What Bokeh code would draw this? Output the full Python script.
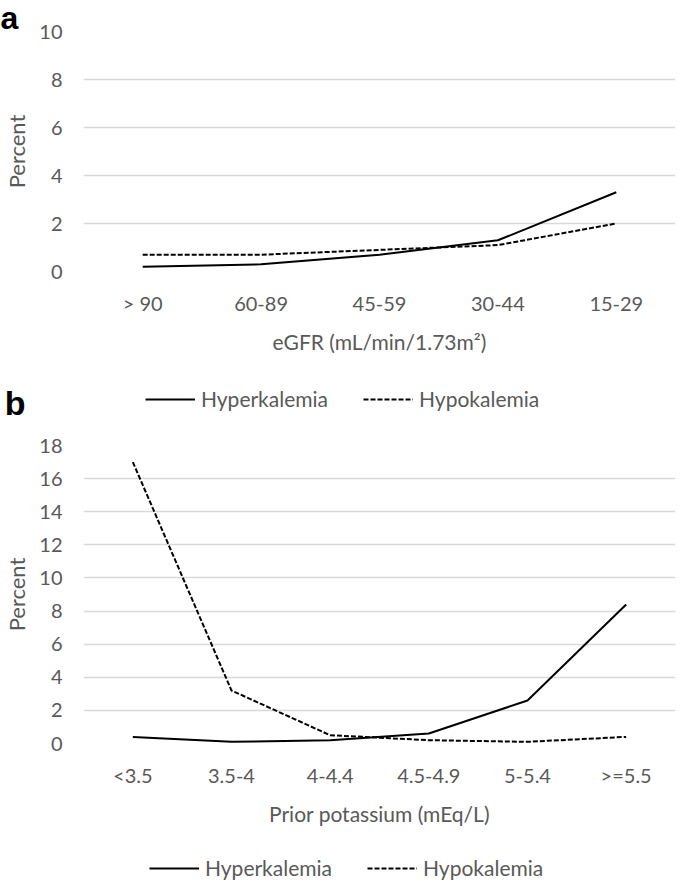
from bokeh.plotting import figure
from bokeh.layouts import column
from bokeh.models import FactorRange, Range1d, FixedTicker, Legend, LegendItem, Title
from bokeh.embed import file_html
from bokeh.resources import INLINE

# ---------------- data ----------------
egfr_cats = ["> 90", "60-89", "45-59", "30-44", "15-29"]
egfr_hyper = [0.2, 0.3, 0.7, 1.3, 3.3]
egfr_hypo = [0.7, 0.7, 0.9, 1.1, 2.0]
egfr_ticks = [0, 2, 4, 6, 8, 10]

k_cats = ["<3.5", "3.5-4", "4-4.4", "4.5-4.9", "5-5.4", ">=5.5"]
k_hyper = [0.4, 0.1, 0.2, 0.6, 2.6, 8.4]
k_hypo = [17.0, 3.2, 0.5, 0.2, 0.1, 0.4]
k_ticks = [0, 2, 4, 6, 8, 10, 12, 14, 16, 18]

series_names = ["Hyperkalemia", "Hypokalemia"]

FONT = "Lato"
GRAY = "#595959"
GRID = "#d9d9d9"
W = 685
SOLID = dict(line_color="black", line_width=2)
DASHED = dict(line_color="black", line_width=2, line_dash="5 2")


def style(p, ticks):
    p.outline_line_color = None
    p.xgrid.grid_line_color = None
    p.ygrid.grid_line_color = GRID
    p.ygrid.grid_line_width = 1.5
    p.yaxis.ticker = FixedTicker(ticks=ticks)
    for ax in (p.xaxis[0], p.yaxis[0]):
        ax.axis_line_color = None
        ax.major_tick_line_color = None
        ax.minor_tick_line_color = None
        ax.major_tick_out = 0
        ax.major_tick_in = 0
        ax.minor_tick_out = 0
        ax.major_label_text_font = FONT
        ax.major_label_text_font_size = "20px"
        ax.major_label_text_color = GRAY
        ax.axis_label_text_font = FONT
        ax.axis_label_text_font_size = "21px"
        ax.axis_label_text_color = GRAY
        ax.axis_label_text_font_style = "normal"
    p.yaxis.axis_label = "Percent"
    p.yaxis.axis_label_text_font_size = "22px"
    p.yaxis.major_label_standoff = 21
    p.yaxis.axis_label_standoff = 6
    p.xaxis.major_label_standoff = 19
    p.xaxis.axis_label_standoff = 11


def legend_strip(height, vx, vy, cats, hyper, hypo, letter=None, letter_y=None):
    """A blank strip holding one legend row (and optionally the panel letter)."""
    s = figure(width=W, height=height, x_range=Range1d(0, len(cats)),
               y_range=Range1d(0, height), x_axis_type=None, output_backend="svg",
               toolbar_location=None, min_border_left=78, min_border_right=0,
               min_border_top=0, min_border_bottom=0)
    s.outline_line_color = None
    s.grid.visible = False
    ya = s.yaxis[0]
    ya.axis_line_color = None
    ya.major_tick_line_color = None
    ya.minor_tick_line_color = None
    ya.major_tick_out = 0
    ya.minor_tick_out = 0
    if letter is None:
        ya.ticker = FixedTicker(ticks=[])
    else:
        ya.ticker = FixedTicker(ticks=[letter_y])
        ya.major_label_overrides = {letter_y: letter}
        ya.major_label_standoff = 58
        ya.major_label_text_font = "Liberation Sans"
        ya.major_label_text_font_style = "bold"
        ya.major_label_text_font_size = "34px"
        ya.major_label_text_color = "black"
    rH = s.line(list(range(len(cats))), hyper, visible=False, **SOLID)
    rL = s.line(list(range(len(cats))), hypo, visible=False, **DASHED)
    s.add_layout(Legend(items=[LegendItem(label=series_names[0], renderers=[rH]),
                               LegendItem(label=series_names[1], renderers=[rL])],
                        location=(vx, vy), orientation="horizontal",
                        glyph_width=50, glyph_height=24, label_height=24,
                        label_standoff=6, padding=0, margin=0, spacing=35,
                        border_line_alpha=0, background_fill_alpha=0,
                        inactive_fill_alpha=0,
                        label_text_font=FONT, label_text_font_size="21px",
                        label_text_color=GRAY))
    return s


# ---------------- panel a ----------------
pA = figure(width=W, height=356, x_range=FactorRange(factors=egfr_cats),
            y_range=Range1d(0, 10), output_backend="svg", toolbar_location=None,
            min_border_left=78, min_border_right=10, min_border_top=31, min_border_bottom=82)
style(pA, egfr_ticks)
pA.xaxis.axis_label = "eGFR (mL/min/1.73m\u00b2)"
pA.line(egfr_cats, egfr_hyper, **SOLID)
pA.line(egfr_cats, egfr_hypo, **DASHED)
pA.add_layout(Title(text="a", align="left", offset=-83, standoff=-8,
                    vertical_align="bottom", text_font="Liberation Sans",
                    text_font_style="bold", text_font_size="32px",
                    text_color="black"), "above")

strip1 = legend_strip(77, 62, 22, egfr_cats, egfr_hyper, egfr_hypo, letter="b", letter_y=31)

# ---------------- panel b ----------------
pB = figure(width=W, height=395, x_range=FactorRange(factors=k_cats),
            y_range=Range1d(0, 18), output_backend="svg", toolbar_location=None,
            min_border_left=78, min_border_right=0, min_border_top=12, min_border_bottom=82)
style(pB, k_ticks)
pB.xaxis.axis_label = "Prior potassium (mEq/L)"
pB.line(k_cats, k_hyper, **SOLID)
pB.line(k_cats, k_hypo, **DASHED)

strip2 = legend_strip(52, 66, 0, k_cats, k_hyper, k_hypo)

layout = column(pA, strip1, pB, strip2, spacing=0)
open("out.html", "w").write(file_html(layout, INLINE))
